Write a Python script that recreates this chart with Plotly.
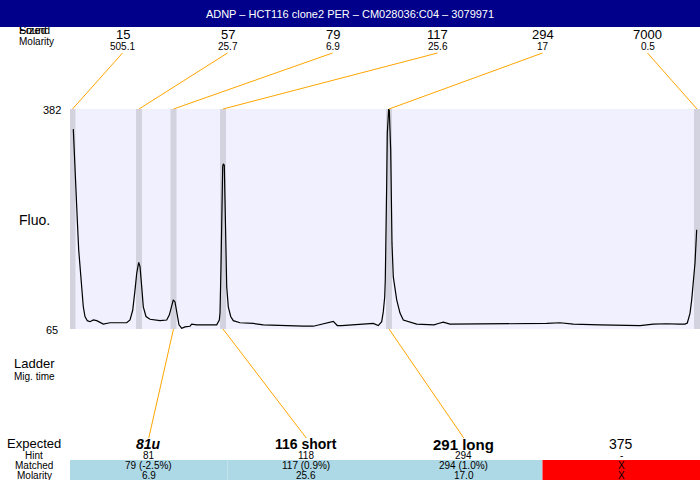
import plotly.graph_objects as go

FONT = "Liberation Sans, Arial, sans-serif"

title_text = "ADNP – HCT116 clone2 PER – CM028036:C04 – 3079971"

# ---- ladder peaks (top row) ----
ladder_sizes = ["15", "57", "79", "117", "294", "7000"]
ladder_molarity = ["505.1", "25.7", "6.9", "25.6", "17", "0.5"]
ladder_times = [2.5, 69, 103.5, 153, 319, 627]

# ---- electropherogram trace ----
mig_time = [3.3, 5, 6, 7.3, 8.7, 10, 11.7, 13.3, 15, 17.3, 20, 23.3, 26.7, 30, 33.3, 40, 56.7,
            60, 62.7, 65, 66.7, 68.7, 70, 71.7, 73.3, 76, 80, 90, 96.7, 99.3, 101.7, 103.3,
            105, 106.7, 109, 111.7, 115, 120, 121.7, 126.7, 146.7, 149.3, 150, 151, 151.7,
            152.7, 153.3, 154.3, 155, 155.7, 156.7, 158.3, 160.7, 163.3, 170, 183.3, 193.3,
            233.3, 238.3, 243.3, 263.3, 267.3, 271.7, 303.3, 308.3, 311.7, 313.3, 314.7,
            315.3, 316, 316.7, 317.3, 318.7, 319.3, 320.7, 321.3, 322, 323.3, 326.7, 330,
            333.3, 346.7, 360, 364, 368.3, 373.3, 380, 433.3, 466.7, 470, 476.7, 490, 503.3,
            530, 556.7, 570, 583.3, 596.7, 608.3, 615, 617.3, 618.3, 620, 621.7, 623.3, 625,
            626.7]
fluo = [353, 306, 265, 222, 179, 155, 126, 97, 83, 77, 75.5, 78, 77, 74, 72, 74, 74,
        78, 92, 121, 145, 161, 155, 126, 97, 83, 79, 77, 78, 85, 100, 107,
        104, 88, 71, 66, 68, 69, 72, 71, 71, 78, 88, 155, 227,
        299, 303, 301, 251, 179, 126, 97, 83, 77, 74, 73, 71,
        69, 69, 69, 76, 70, 70, 73, 70, 75.5, 90, 111,
        136, 188, 275, 347, 382, 380, 323, 251, 188, 140, 107, 88,
        78, 72, 71, 71, 73, 75, 72, 72, 72.6, 72.6, 73, 74, 72,
        71, 71, 70, 72, 72.6, 72, 72, 73.6, 79, 87.6, 107, 136, 160, 208, 241,
        258]
y_min, y_max = 65, 382

# ---- expected / matched table ----
expected_labels = ["81u", "116 short", "291 long", "375"]
hint_values = ["81", "118", "294", "-"]
matched_values = ["79 (-2.5%)", "117 (0.9%)", "294 (1.0%)", "X"]
molarity_values = ["6.9", "25.6", "17.0", "X"]
matched_ladder_index = [2, 3, 4, None]

# styles for expected labels
exp_fmt = [("<b><i>", "</i></b>", 14), ("<b>", "</b>", 14), ("<b>", "</b>", 15), ("", "", 14)]

# ---- layout geometry (pixels) ----
L, T, B = 70, 109, 329
W, H = 630, 220


def PX(x):
    return (x - L) / W


def PY(y):
    return (B - y) / H


fig = go.Figure()
fig.add_trace(go.Scatter(x=mig_time, y=fluo, mode="lines",
                         line=dict(color="black", width=1.2),
                         hoverinfo="skip", showlegend=False))

shapes = []
# ladder bands
for t in ladder_times:
    shapes.append(dict(type="rect", xref="x", yref="paper", x0=t - 3, x1=t + 3, y0=0, y1=1,
                       fillcolor="#D3D3DF", line=dict(width=0), layer="below"))
# top connectors
col_w_top = W / len(ladder_sizes)
for i, t in enumerate(ladder_times):
    cx = col_w_top * (i + 0.5)
    shapes.append(dict(type="line", xref="x", yref="paper", x0=cx, y0=PY(53), x1=t, y1=1,
                       line=dict(color="orange", width=1)))
# bottom connectors
col_w_bot = W / len(expected_labels)
for j, li in enumerate(matched_ladder_index):
    if li is None:
        continue
    cx = col_w_bot * (j + 0.5)
    shapes.append(dict(type="line", xref="x", yref="paper", x0=ladder_times[li], y0=0,
                       x1=cx, y1=PY(438), line=dict(color="orange", width=1)))
# matched row backgrounds
for j, li in enumerate(matched_ladder_index):
    shapes.append(dict(type="rect", xref="x", yref="paper",
                       x0=col_w_bot * j, x1=col_w_bot * (j + 1), y0=PY(480), y1=PY(460),
                       fillcolor="#ADD8E6" if li is not None else "#FF0000",
                       line=dict(width=0), layer="below"))

annotations = []


def ann(text, x, y, size, xanchor="center", color="black", **kw):
    d = dict(text=text, x=PX(x), y=PY(y), xref="paper", yref="paper", showarrow=False,
             xanchor=xanchor, yanchor="middle", font=dict(family=FONT, size=size, color=color))
    d.update(kw)
    annotations.append(d)


# left labels
ann("Found", 17, 30, 11, xanchor="left")
ann("Sized", 17, 30, 11, xanchor="left")
ann("Molarity", 17, 41, 10, xanchor="left")
ann(str(y_max), 52, 110, 11)
ann(str(y_min), 52, 330, 11)
ann("Fluo.", 34, 220, 14)
ann("Ladder", 34, 363, 13)
ann("Mig. time", 34, 376, 10)
ann("Expected", 34, 443, 13)
ann("Hint", 34, 455, 10)
ann("Matched", 34, 465, 10)
ann("Molarity", 34, 475, 10)

# top ladder labels
for i, (s, m) in enumerate(zip(ladder_sizes, ladder_molarity)):
    cx = L + col_w_top * (i + 0.5)
    ann(s, cx, 34, 13)
    ann(m, cx, 46, 10)

# expected table
for j in range(len(expected_labels)):
    cx = L + col_w_bot * (j + 0.5)
    o, c, sz = exp_fmt[j]
    ann(o + expected_labels[j] + c, cx, 444, sz)
    ann(hint_values[j], cx, 455, 10)
    ann(matched_values[j], cx, 465.5, 10)
    ann(molarity_values[j], cx, 475.5, 10)

# title bar (drawn last so it covers the top of the overlapping header text)
annotations.append(dict(text=title_text, x=PX(0), y=PY(0), xref="paper", yref="paper",
                        xanchor="left", yanchor="top", showarrow=False, width=700, height=27,
                        bgcolor="#00008B", borderpad=0, borderwidth=0, valign="middle",
                        font=dict(family=FONT, size=11, color="white")))

fig.update_layout(
    width=700, height=480,
    margin=dict(l=L, r=700 - L - W, t=T, b=480 - B, pad=0),
    paper_bgcolor="white", plot_bgcolor="#F0F0FF",
    xaxis=dict(range=[0, W], visible=False, fixedrange=True),
    yaxis=dict(range=[y_min, y_max], visible=False, fixedrange=True),
    shapes=shapes, annotations=annotations, showlegend=False,
    font=dict(family=FONT),
)

fig.write_html("out.html", config={"displayModeBar": False},
               post_script="document.body.style.margin='0px';document.body.style.overflow='hidden';")
